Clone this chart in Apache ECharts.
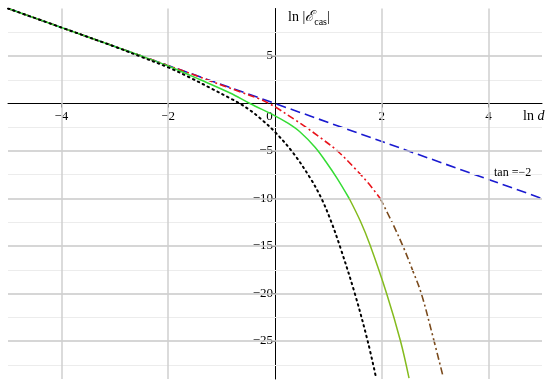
<!DOCTYPE html>
<html>
<head>
<meta charset="utf-8">
<script src="https://cdn.jsdelivr.net/npm/echarts@6/dist/echarts.min.js"></script>
<style>html,body{margin:0;padding:0;background:#fff}#c{width:550px;height:387px}</style>
</head>
<body>
<div id="c"></div>
<script>
// ---- data ----
const blueX = [-5, 5];
const blueY = [10, -10];

const redX = [-5, -4, -3, -2, -1.22, -0.72, -0.28, 0, 0.37, 0.53, 0.85, 1.18, 1.49, 1.75, 1.97, 2.2, 2.41, 2.58, 2.74, 2.96, 3.15];
const redY = [10, 8, 6, 4, 2.4, 1.36, 0.45, -0.35, -1.7, -2.3, -3.6, -5.05, -6.8, -8.4, -10, -12.6, -15.2, -17.6, -20, -24.6, -28.8];

const greenX = [-5, -4, -3, -2.5, -2, -1.4, -0.84, -0.47, 0, 0.25, 0.47, 0.75, 0.95, 1.16, 1.39, 1.6, 1.78, 2.09, 2.35, 2.51];
const greenY = [10, 8, 6, 5, 3.95, 2.5, 1.1, 0, -1.3, -2.1, -3.0, -4.6, -6.1, -7.85, -10, -12.4, -14.9, -20, -25, -28.9];

const blackX = [-5, -4, -3, -2.5, -2, -1.6, -1.2, -0.84, -0.66, -0.47, -0.28, 0, 0.34, 0.66, 0.87, 1.05, 1.22, 1.5, 1.74, 1.89];
const blackY = [10, 8, 5.98, 4.9, 3.8, 2.75, 1.6, 0.55, 0, -0.7, -1.55, -3.0, -5.2, -7.85, -10, -12.4, -15.1, -20.1, -25.1, -28.8];

const xTickLabels = [-4, -2, 0, 2, 4];
const xGrid = [-4, -2, 2, 4];
const yTickLabels = [5, -5, -10, -15, -20, -25];
const yMajorGrid = [5, -5, -10, -15, -20, -25];
const yMinorGrid = [7.5, 2.5, -2.5, -7.5, -12.5, -17.5, -22.5, -27.5];
const yTicks = [7.5, 5, 2.5, -2.5, -5, -7.5, -10, -12.5, -15, -17.5, -20, -22.5, -25, -27.5];
const colourSplitY = -10;
const annotX = 4.45, annotY = -7.3;
const annotText = 'tan =−2';

const X_MIN = -5, X_MAX = 5, Y_MIN = -29, Y_MAX = 10;
const W = 550, H = 387;
const G = { left: 8, right: 8, top: 8.5, bottom: 8 };
const gw = W - G.left - G.right, gh = H - G.top - G.bottom;
// put the axes through the origin
const xAxisOffset = -gh * (0 - Y_MIN) / (Y_MAX - Y_MIN);
const yAxisOffset = -gw * (0 - X_MIN) / (X_MAX - X_MIN);

const pairs = (xs, ys) => xs.map((x, i) => [x, ys[i]]);
const upper = (xs, ys) => pairs(xs, ys).filter(p => p[1] >= colourSplitY);
const lower = (xs, ys) => pairs(xs, ys).filter(p => p[1] <= colourSplitY);
const fmt = v => v < 0 ? '−' + Math.abs(v) : String(v);
const serif = 'Liberation Serif';

const gridLines = [].concat(
  yMajorGrid.map(v => ({ yAxis: v, lineStyle: { color: '#c9c9c9', width: 1.5, type: 'solid' } })),
  yMinorGrid.map(v => ({ yAxis: v, lineStyle: { color: '#ececec', width: 1, type: 'solid' } })),
  xGrid.map(v => ({ xAxis: v, lineStyle: { color: '#cfcfcf', width: 1.5, type: 'solid' } }))
);

const redStyle = { width: 1.6, type: [7, 3, 2, 3] };
const greenStyle = { width: 1.5 };
const lineSeries = (data, z, color, style) => ({
  type: 'line', data, z, symbol: 'none', smooth: 0.35, silent: true,
  lineStyle: Object.assign({ color }, style)
});

const chart = echarts.init(document.getElementById('c'), null, { renderer: 'canvas' });
chart.setOption({
  animation: false,
  backgroundColor: '#fff',
  grid: Object.assign({ containLabel: false, outerBoundsMode: 'none' }, G),
  title: [
    {
      left: 283, top: 3,
      text: '{n|ln |}{e|ℰ}{s|cas}{n||}',
      textStyle: {
        fontWeight: 'normal',
        rich: {
          n: { fontFamily: serif, fontSize: 14, fontWeight: 'normal', color: '#000' },
          e: { fontFamily: serif, fontSize: 15, fontWeight: 'normal', fontStyle: 'italic', color: '#000' },
          s: { fontFamily: serif, fontSize: 10, fontWeight: 'normal', color: '#000', padding: [9, 0, 0, 0] }
        }
      }
    },
    {
      left: 518, top: 104,
      text: '{n|ln }{d|d}',
      textStyle: {
        fontWeight: 'normal',
        rich: {
          n: { fontFamily: serif, fontSize: 14, fontWeight: 'normal', color: '#000' },
          d: { fontFamily: serif, fontSize: 14, fontWeight: 'normal', fontStyle: 'italic', color: '#000' }
        }
      }
    }
  ],
  xAxis: {
    type: 'value', min: X_MIN, max: X_MAX, position: 'bottom', offset: xAxisOffset,
    axisLine: { onZero: false, lineStyle: { color: '#000', width: 1 } },
    axisTick: { show: true, customValues: xGrid, length: 4, lineStyle: { color: '#000' } },
    axisLabel: {
      customValues: xTickLabels, margin: 7,
      fontFamily: serif, fontSize: 13, color: '#000',
      formatter: v => v === 0 ? '{z|0}' : fmt(v),
      rich: { z: { fontFamily: serif, fontSize: 13, color: '#000', padding: [0, 11, 0, 0] } }
    },
    splitLine: { show: false }
  },
  yAxis: {
    type: 'value', min: Y_MIN, max: Y_MAX, position: 'left', offset: yAxisOffset,
    axisLine: { onZero: false, lineStyle: { color: '#000', width: 1 } },
    axisTick: { show: true, customValues: yTicks, length: 4, lineStyle: { color: '#000' } },
    axisLabel: {
      customValues: yTickLabels, margin: 2,
      fontFamily: serif, fontSize: 13, color: '#000',
      formatter: fmt
    },
    splitLine: { show: false }
  },
  series: [
    {
      type: 'line', data: [], z: 1, silent: true,
      markLine: { silent: true, symbol: 'none', label: { show: false }, data: gridLines, animation: false }
    },
    {
      type: 'line', data: pairs(blueX, blueY), z: 3, symbol: 'none', silent: true,
      lineStyle: { color: '#1a1ad0', width: 1.6, type: [10, 5] },
      markPoint: {
        symbol: 'circle', symbolSize: 0, silent: true,
        label: { show: true, position: 'inside', formatter: annotText, fontFamily: serif, fontSize: 12, color: '#000' },
        data: [{ coord: [annotX, annotY] }]
      }
    },
    lineSeries(upper(redX, redY), 4, '#e8131b', redStyle),
    lineSeries(lower(redX, redY), 4, '#7a4a1c', redStyle),
    lineSeries(upper(greenX, greenY), 5, '#35dc35', greenStyle),
    lineSeries(lower(greenX, greenY), 5, '#84bb1e', greenStyle),
    lineSeries(pairs(blackX, blackY), 6, '#000', { width: 2, type: [1.5, 4], cap: 'round' })
  ]
});
</script>
</body>
</html>
